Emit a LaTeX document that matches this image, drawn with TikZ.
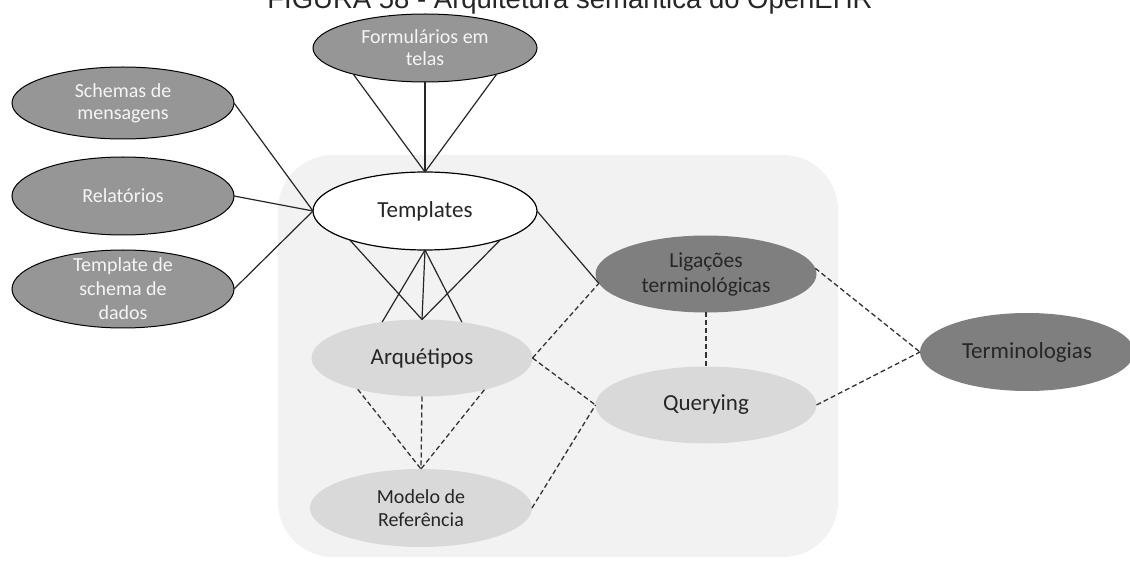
\documentclass[tikz,border=0pt]{standalone}
\usepackage{fontspec}
\setmainfont{Carlito}
\newfontfamily\titlefont{Liberation Sans}
\usetikzlibrary{shapes.geometric}
\definecolor{bgc}{RGB}{242,242,242}
\definecolor{midg}{RGB}{150,150,150}
\definecolor{darkg}{RGB}{127,127,127}
\definecolor{lightg}{RGB}{217,217,217}
\definecolor{txtd}{RGB}{38,38,38}
\definecolor{txtw}{RGB}{245,245,245}
\definecolor{dashc}{RGB}{50,50,50}
\begin{document}
\begin{tikzpicture}[x=1pt,y=-1pt,
  ell/.style={ellipse, inner sep=0pt, outer sep=0pt, align=center},
  outernode/.style={ell, fill=midg, draw=black, line width=1pt, text=txtw,
    font=\fontsize{20}{22}\selectfont},
  tplnode/.style={ell, fill=white, draw=black, line width=1.2pt, text=txtd,
    font=\fontsize{23}{26}\selectfont},
  darknode/.style={ell, fill=darkg, text=txtd},
  lightnode/.style={ell, fill=lightg, text=txtd},
  solidline/.style={line width=1.2pt, black!85},
  dashline/.style={line width=1.3pt, dashc, dash pattern=on 5pt off 3pt}
]
\useasboundingbox (0,0) rectangle (1130,561);
\clip (0,0) rectangle (1130,561);
\fill[white] (0,0) rectangle (1130,561);

% title (cut at top, as in the reference)
\node[font=\titlefont\fontsize{27.5}{30}\selectfont, anchor=base, text=black!85] (title) at (570,9) {FIGURA 58 - Arquitetura semântica do OpenEHR};

% background panel
\fill[bgc, rounded corners=55pt] (278,155) rectangle (838,557);

% outer nodes
\node[outernode, minimum width=224pt, minimum height=68pt] (F) at (425,48) {Formulários em\\telas};
\node[outernode, minimum width=222pt, minimum height=72pt] (S) at (123,103) {Schemas de\\mensagens};
\node[outernode, minimum width=222pt, minimum height=78pt] (R) at (123,196) {Relatórios};
\node[outernode, minimum width=222pt, minimum height=78pt, inner ysep=-14pt, font=\fontsize{20}{24}\selectfont] (D) at (123,289) {Template de\\schema de\\dados};

% central nodes
\node[tplnode, minimum width=224pt, minimum height=78pt] (T) at (425,211) {Templates};
\node[lightnode, minimum width=221pt, minimum height=77pt, font=\fontsize{23}{27}\selectfont] (A) at (422,358) {Arquétipos};
\node[lightnode, minimum width=222pt, minimum height=78pt, font=\fontsize{20}{23}\selectfont] (M) at (421,508) {Modelo de\\Referência};
\node[darknode, minimum width=221pt, minimum height=77pt, font=\fontsize{21.5}{25}\selectfont] (L) at (706,274) {Ligações\\terminológicas};
\node[lightnode, minimum width=221pt, minimum height=77pt, font=\fontsize{23}{27}\selectfont] (Q) at (706,405) {Querying};
\node[darknode, minimum width=214pt, minimum height=78pt, font=\fontsize{23}{27}\selectfont] (Tm) at (1027,352) {Terminologias};

% solid connectors
\draw[solidline] (F.-160) -- (T.north);
\draw[solidline] (F.south) -- (T.north);
\draw[solidline] (F.-20) -- (T.north);
\draw[solidline] (S.east) -- (T.west);
\draw[solidline] (R.east) -- (T.west);
\draw[solidline] (D.east) -- (T.west);
\draw[solidline] (T.-159) -- (A.north);
\draw[solidline] (T.-21) -- (A.north);
\draw[solidline] (T.south) -- (A.north);
\draw[solidline] (T.south) -- (A.138);
\draw[solidline] (T.south) -- (A.42);
\draw[solidline] (T.east) -- (L.185);

% dashed connectors
\draw[dashline] (A.-154) -- (M.north);
\draw[dashline] (A.south) -- (M.north);
\draw[dashline] (A.-27) -- (M.north);
\draw[dashline] (A.east) -- (L.185);
\draw[dashline] (A.east) -- (Q.west);
\draw[dashline] (M.east) -- (Q.west);
\draw[dashline] (L.south) -- (Q.north);
\draw[dashline] (L.3) -- (Tm.west);
\draw[dashline] (Q.east) -- (Tm.west);
\end{tikzpicture}
\end{document}
